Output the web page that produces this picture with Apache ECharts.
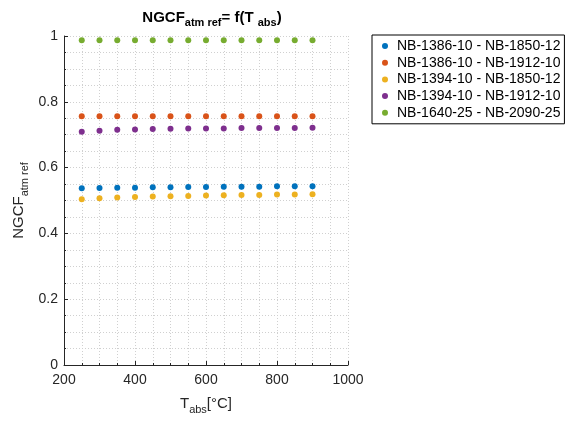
<!DOCTYPE html>
<html><head><meta charset="utf-8">
<script src="https://cdn.jsdelivr.net/npm/echarts@6/dist/echarts.min.js"></script>
<style>html,body{margin:0;padding:0;background:#fff}#c{width:572px;height:423px}</style>
</head><body><div id="c"></div>
<script>
const temps = [250,300,350,400,450,500,550,600,650,700,750,800,850,900];
const seriesNames = ['NB-1386-10 - NB-1850-12','NB-1386-10 - NB-1912-10','NB-1394-10 - NB-1850-12','NB-1394-10 - NB-1912-10','NB-1640-25 - NB-2090-25'];
const s1 = [0.537,0.538,0.539,0.539,0.540,0.540,0.541,0.541,0.542,0.542,0.542,0.543,0.543,0.543];
const s2 = [0.756,0.756,0.756,0.756,0.756,0.756,0.756,0.756,0.756,0.756,0.756,0.756,0.756,0.756];
const s3 = [0.504,0.507,0.509,0.511,0.512,0.513,0.514,0.515,0.516,0.517,0.517,0.518,0.518,0.519];
const s4 = [0.709,0.712,0.715,0.716,0.717,0.718,0.7185,0.719,0.719,0.720,0.720,0.720,0.720,0.721];
const s5 = [0.987,0.987,0.987,0.987,0.987,0.987,0.987,0.987,0.987,0.987,0.987,0.987,0.987,0.987];
const colors = ['#0072BD','#D95319','#EDB120','#7E2F8E','#77AC30'];
const allVals = [s1,s2,s3,s4,s5];

const font = 'Liberation Sans, Arial, sans-serif';
const chart = echarts.init(document.getElementById('c'));
const gridLine = {show:true, lineStyle:{color:'#d0d0d0', type:[1,2], width:1}};
chart.setOption({
  animation:false,
  color: colors,
  title: {
    text: '{b|NGCF}{s|atm ref}{b|= f(T }{s|abs}{b|)}',
    left: 207, top: 4, textAlign:'center',
    textStyle: {
      rich: {
        b:{fontFamily:font, fontWeight:'bold', fontSize:15, color:'#000', lineHeight:18},
        s:{fontFamily:font, fontWeight:'bold', fontSize:11, color:'#000', padding:[10,0,0,0], lineHeight:18}
      }
    }
  },
  legend: {
    orient:'vertical', left:372, top:35,
    itemWidth:6, itemHeight:6, itemGap:2.7, icon:'circle',
    padding:[4,4,4,10],
    borderColor:'#000', borderWidth:1,
    textStyle:{fontFamily:font, fontSize:14, color:'#000', lineHeight:14, padding:[0,0,0,4]},
    data: seriesNames
  },
  grid: {left:64, right:224, top:36, bottom:58, containLabel:false},
  xAxis: {
    type:'value', min:200, max:1000, interval:200,
    name:'{n|T}{s|abs}{n|[°C]}', nameLocation:'middle', nameGap:25,
    nameTextStyle:{rich:{
      n:{fontFamily:font, fontSize:15, color:'#262626', lineHeight:18},
      s:{fontFamily:font, fontSize:11, color:'#262626', padding:[13,0,0,0], lineHeight:18}
    }},
    axisLine:{show:true, onZero:false, lineStyle:{color:'#262626', width:1}},
    axisTick:{show:true, inside:true, length:4, lineStyle:{color:'#262626'}},
    minorTick:{show:true, splitNumber:4, length:2, lineStyle:{color:'#262626'}},
    axisLabel:{fontFamily:font, fontSize:14, color:'#262626', margin:8,
      formatter: v => String(v)},
    splitLine: gridLine,
    minorSplitLine: gridLine
  },
  yAxis: {
    type:'value', min:0, max:1, interval:0.2,
    name:'{n|NGCF}{s|atm ref}', nameLocation:'middle', nameGap:36, nameRotate:90,
    nameTextStyle:{rich:{
      n:{fontFamily:font, fontSize:15, color:'#262626', lineHeight:18},
      s:{fontFamily:font, fontSize:11, color:'#262626', padding:[12,0,0,0], lineHeight:18}
    }},
    axisLine:{show:true, onZero:false, lineStyle:{color:'#262626', width:1}},
    axisTick:{show:true, inside:true, length:4, lineStyle:{color:'#262626'}},
    minorTick:{show:true, splitNumber:4, length:2, lineStyle:{color:'#262626'}},
    axisLabel:{fontFamily:font, fontSize:14, color:'#262626', margin:6,
      formatter: v => String(Math.round(v*10)/10)},
    splitLine: gridLine,
    minorSplitLine: gridLine
  },
  series: seriesNames.map((n,i)=>({
    name:n, type:'scatter', symbol:'circle', symbolSize:6,
    itemStyle:{color:colors[i], opacity:1},
    data: temps.map((t,j)=>[t, allVals[i][j]])
  }))
});
</script></body></html>
